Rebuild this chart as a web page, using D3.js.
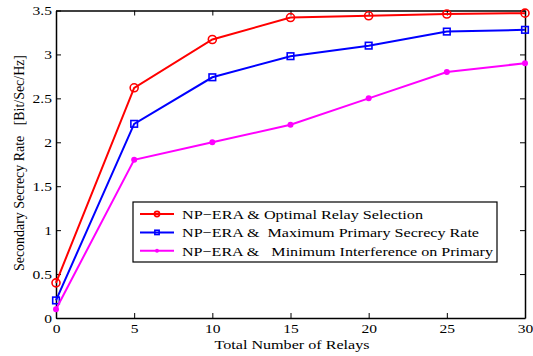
<!DOCTYPE html>
<html>
<head>
<meta charset="utf-8">
<script src="https://cdn.jsdelivr.net/npm/d3@7"></script>
<style>
  body { margin: 0; background: #fff; }
  svg text { font-family: "Liberation Serif", "Times New Roman", "DejaVu Serif", serif; fill: #000; }
</style>
</head>
<body>
<svg width="533" height="356"></svg>
<script>
const relays = [0, 5, 10, 15, 20, 25, 30];
const optimal = [0.4, 2.62, 3.17, 3.42, 3.44, 3.46, 3.47];
const maxPrimary = [0.2, 2.21, 2.74, 2.98, 3.10, 3.26, 3.28];
const minInterf = [0.1, 1.8, 2.0, 2.2, 2.5, 2.8, 2.9];
const seriesNames = [
  'NP\u2212ERA & Optimal Relay Selection',
  'NP\u2212ERA &  Maximum Primary Secrecy Rate',
  'NP\u2212ERA &   Minimum Interference on Primary'
];
const xTicks = [0, 5, 10, 15, 20, 25, 30];
const yTicks = [0, 0.5, 1, 1.5, 2, 2.5, 3, 3.5];

const margin = { top: 10.5, right: 8, bottom: 38, left: 56 };
const width = 533 - margin.left - margin.right;
const height = 356 - margin.top - margin.bottom;

const x = d3.scaleLinear().domain([0, 30]).range([0, width]);
const y = d3.scaleLinear().domain([0, 3.5]).range([height, 0]);

const svg = d3.select('svg')
  .append('g')
  .attr('transform', `translate(${margin.left}, ${margin.top})`);

// the original figure is a bit wider than tall, so text is stretched
const stretch = (sel, k) => sel.each(function () {
  const len = this.getComputedTextLength();
  d3.select(this).attr('textLength', len * k).attr('lengthAdjust', 'spacingAndGlyphs');
});

const fmt = d => String(d);

svg.append('g')
  .attr('transform', `translate(0, ${height})`)
  .call(d3.axisBottom(x).tickValues(xTicks).tickSizeInner(-5).tickSizeOuter(0).tickPadding(5).tickFormat(fmt));
svg.append('g')
  .call(d3.axisTop(x).tickValues(xTicks).tickSizeInner(-5).tickSizeOuter(0).tickFormat(''));
svg.append('g')
  .call(d3.axisLeft(y).tickValues(yTicks).tickSizeInner(-5).tickSizeOuter(0).tickPadding(4).tickFormat(fmt));
svg.append('g')
  .attr('transform', `translate(${width}, 0)`)
  .call(d3.axisRight(y).tickValues(yTicks).tickSizeInner(-5).tickSizeOuter(0).tickFormat(''));

svg.selectAll('.domain').attr('stroke', '#000').attr('stroke-width', 1.5);
svg.selectAll('.tick line').attr('stroke', '#000');
svg.selectAll('.tick text')
  .style('font-size', '13.5px')
  .style('font-family', '"Liberation Serif", serif')
  .call(stretch, 1.15);

const series = [
  { values: optimal, color: '#ff0000', marker: 'circle' },
  { values: maxPrimary, color: '#0000ff', marker: 'square' },
  { values: minInterf, color: '#ff00ff', marker: 'dot' }
];

const line = d3.line().x((d, i) => x(relays[i])).y(d => y(d));

const drawMarker = (g, type, color, cx, cy, s) => {
  if (type === 'circle') {
    g.append('circle').attr('cx', cx).attr('cy', cy).attr('r', 4 * s)
      .attr('fill', 'none').attr('stroke', color).attr('stroke-width', 1.6);
  } else if (type === 'square') {
    g.append('rect').attr('x', cx - 3.3 * s).attr('y', cy - 3.3 * s)
      .attr('width', 6.6 * s).attr('height', 6.6 * s)
      .attr('fill', 'none').attr('stroke', color).attr('stroke-width', 1.6);
  } else {
    g.append('circle').attr('cx', cx).attr('cy', cy).attr('r', 3 * s).attr('fill', color);
  }
};

series.forEach(s => {
  svg.append('path')
    .datum(s.values)
    .attr('d', line)
    .attr('fill', 'none')
    .attr('stroke', s.color)
    .attr('stroke-width', 2);
  const mg = svg.append('g');
  s.values.forEach((v, i) => drawMarker(mg, s.marker, s.color, x(relays[i]), y(v), 1));
});

// legend
const legendWidths = [241, 297, 311];
const legend = svg.append('g').attr('transform', `translate(${133 - margin.left}, ${202 - margin.top})`);
legend.append('rect')
  .attr('width', 364).attr('height', 60)
  .attr('fill', '#fff').attr('stroke', '#000').attr('stroke-width', 1.2);
series.forEach((s, i) => {
  const cy = 12 + i * 18.4;
  legend.append('line').attr('x1', 7).attr('x2', 41).attr('y1', cy).attr('y2', cy)
    .attr('stroke', s.color).attr('stroke-width', 2);
  drawMarker(legend, s.marker, s.color, 24, cy, 0.65);
  legend.append('text')
    .attr('x', 49).attr('y', cy + 4.7)
    .style('font-size', '13.5px')
    .style('white-space', 'pre')
    .attr('textLength', legendWidths[i])
    .attr('lengthAdjust', 'spacingAndGlyphs')
    .text(seriesNames[i]);
});

// axis labels
svg.append('text')
  .attr('x', 292 - margin.left).attr('y', 348.5 - margin.top)
  .attr('text-anchor', 'middle')
  .style('font-size', '13.5px')
  .attr('textLength', 155)
  .attr('lengthAdjust', 'spacingAndGlyphs')
  .text('Total Number of Relays');

svg.append('text')
  .attr('transform', `translate(${24 - margin.left}, ${163 - margin.top}) rotate(-90)`)
  .attr('text-anchor', 'middle')
  .style('font-size', '14px')
  .style('white-space', 'pre')
  .attr('textLength', 216)
  .attr('lengthAdjust', 'spacingAndGlyphs')
  .text('Secondary Secrecy Rate   [Bit/Sec/Hz]');
</script>
</body>
</html>
